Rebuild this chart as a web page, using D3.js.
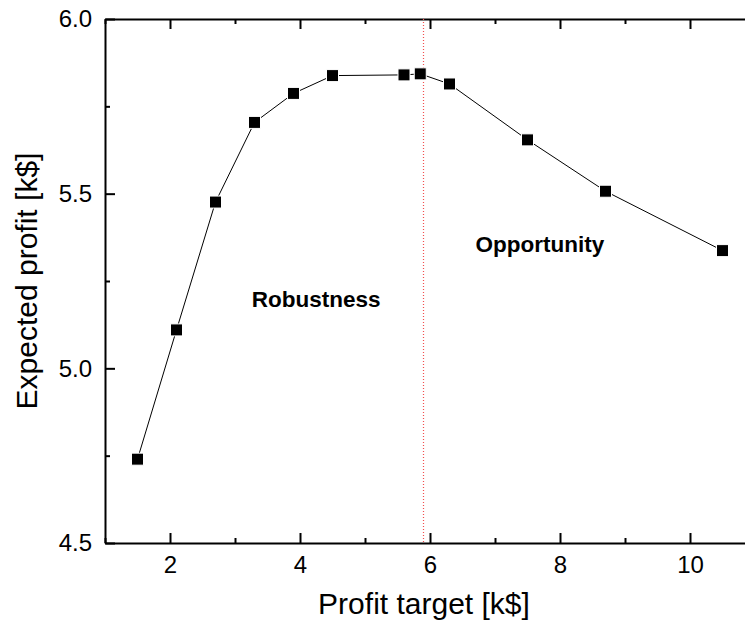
<!DOCTYPE html>
<html>
<head>
<meta charset="utf-8">
<script src="https://cdn.jsdelivr.net/npm/d3@7"></script>
<style>
  html, body { margin: 0; padding: 0; background: #fff; overflow: hidden; }
  text { font-family: "Liberation Sans", Arial, sans-serif; fill: #000; }
</style>
</head>
<body>
<svg id="chart" width="745" height="629"></svg>
<script>
// Profit target vs expected profit (k$)
const profitTarget   = [1.5, 2.1, 2.7, 3.3, 3.9, 4.5, 5.6, 5.85, 6.3, 7.5, 8.7, 10.5];
const expectedProfit = [4.74, 5.11, 5.476, 5.704, 5.787, 5.838, 5.84, 5.843, 5.814, 5.654, 5.507, 5.337];
const xTicks = [2, 4, 6, 8, 10];
const yTicks = [4.5, 5.0, 5.5, 6.0];
const xMinorTicks = [1, 3, 5, 7, 9, 11];
const yMinorTicks = [4.75, 5.25, 5.75];
const splitTarget = 5.9;
const regionLabels = [
  { text: "Robustness", x: 4.25, y: 5.175 },
  { text: "Opportunity", x: 7.69, y: 5.333 }
];

const svg = d3.select("#chart");
const plotLeft = 105, plotTop = 19, plotBottom = 543, plotRight = 755;
const font = "Liberation Sans, Arial, sans-serif";

const x = d3.scaleLinear().domain([1, 11]).range([plotLeft, plotRight]);
const y = d3.scaleLinear().domain([4.5, 6.0]).range([plotBottom, plotTop]);

// axes: ticks point inward
const axisStyle = g => {
  g.select(".domain").attr("stroke-width", 2);
  g.selectAll(".tick line").attr("stroke-width", 2);
};

// bottom axis with labels
const gx = svg.append("g").attr("transform", `translate(0,${plotBottom})`)
  .call(d3.axisBottom(x).tickValues(xTicks).tickFormat(d3.format("d")).tickSizeInner(-10).tickSizeOuter(0).tickPadding(13))
  .call(axisStyle);
gx.selectAll("text").attr("font-size", 24).attr("font-family", font);
svg.append("g").attr("transform", `translate(0,${plotBottom})`)
  .call(d3.axisBottom(x).tickValues(xMinorTicks).tickFormat("").tickSizeInner(-5).tickSizeOuter(0))
  .call(g => g.select(".domain").remove())
  .call(axisStyle);

// top axis, no labels
svg.append("g").attr("transform", `translate(0,${plotTop})`)
  .call(d3.axisTop(x).tickValues(xTicks).tickFormat("").tickSizeInner(-10).tickSizeOuter(0))
  .call(axisStyle);
svg.append("g").attr("transform", `translate(0,${plotTop})`)
  .call(d3.axisTop(x).tickValues(xMinorTicks).tickFormat("").tickSizeInner(-5).tickSizeOuter(0))
  .call(g => g.select(".domain").remove())
  .call(axisStyle);

// left axis
const gy = svg.append("g").attr("transform", `translate(${plotLeft},0)`)
  .call(d3.axisLeft(y).tickValues(yTicks).tickFormat(d3.format(".1f")).tickSizeInner(-10).tickSizeOuter(0).tickPadding(13))
  .call(axisStyle);
gy.selectAll("text").attr("font-size", 24).attr("font-family", font);
svg.append("g").attr("transform", `translate(${plotLeft},0)`)
  .call(d3.axisLeft(y).tickValues(yMinorTicks).tickFormat("").tickSizeInner(-5).tickSizeOuter(0))
  .call(g => g.select(".domain").remove())
  .call(axisStyle);

// divider between robustness and opportunity regions
svg.append("line")
  .attr("x1", x(splitTarget)).attr("x2", x(splitTarget))
  .attr("y1", plotTop).attr("y2", plotBottom)
  .attr("stroke", "#f25050").attr("stroke-width", 1.2)
  .attr("stroke-dasharray", "1,2");

// connecting line
const pts = profitTarget.map((d, i) => [d, expectedProfit[i]]);
svg.append("path")
  .datum(pts)
  .attr("fill", "none").attr("stroke", "#000").attr("stroke-width", 1)
  .attr("d", d3.line().x(d => x(d[0])).y(d => y(d[1])));

// square markers
const s = 12;
svg.append("g").selectAll("rect").data(pts).join("rect")
  .attr("x", d => x(d[0]) - s / 2).attr("y", d => y(d[1]) - s / 2)
  .attr("width", s).attr("height", s)
  .attr("fill", "#000").attr("stroke", "#fff").attr("stroke-width", 1);

// region labels
svg.append("g").selectAll("text").data(regionLabels).join("text")
  .attr("x", d => x(d.x)).attr("y", d => y(d.y))
  .attr("text-anchor", "middle")
  .attr("font-size", 22.5).attr("font-weight", "bold")
  .text(d => d.text);

// axis titles
svg.append("text")
  .attr("x", 424).attr("y", 614)
  .attr("text-anchor", "middle").attr("font-size", 30)
  .text("Profit target [k$]");
svg.append("text")
  .attr("transform", "translate(37,281) rotate(-90)")
  .attr("text-anchor", "middle").attr("font-size", 30)
  .text("Expected profit [k$]");
</script>
</body>
</html>
